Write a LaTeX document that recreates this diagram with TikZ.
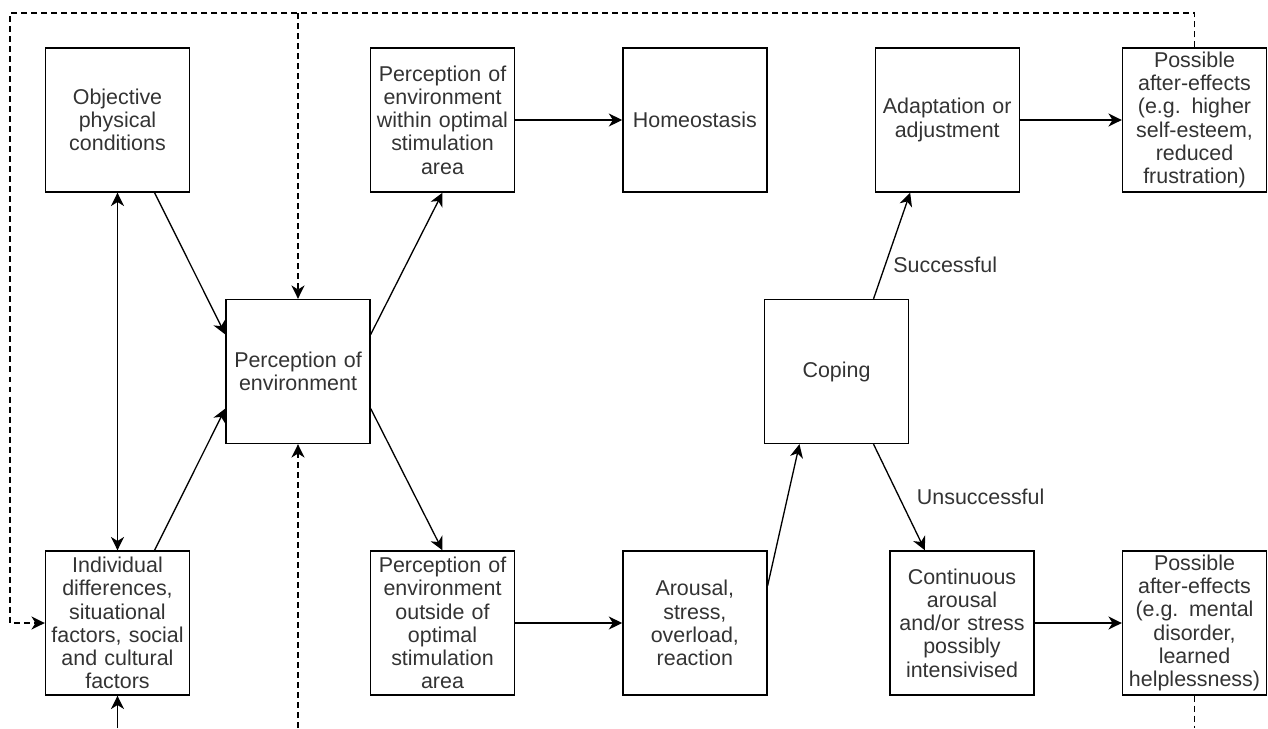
\documentclass[tikz,border=0pt]{standalone}
\usepackage{fontspec}
\setmainfont{Liberation Sans}
\usetikzlibrary{arrows.meta, positioning}

\tikzset{
    box/.style={rectangle, draw, line width=0.8pt, minimum width=2.88cm, minimum height=2.88cm,
        text width=2.8cm, align=center, inner sep=0pt, text=black!80,
        font=\fontsize{12.2}{13.2}\selectfont},
    link/.style={->, line width=0.75pt},
    feedback/.style={link, dash pattern=on 3.4pt off 2.3pt},
    edgetext/.style={inner sep=0pt, text=black!80, font=\fontsize{12.2}{13.2}\selectfont},
}

\begin{document}
\begin{tikzpicture}[x=0.02cm, y=-0.02cm, node distance=2.14cm,
    >={Stealth[length=7.6pt, width=7.4pt, inset=2.3pt]}]
    \useasboundingbox (0,0) rectangle (1268,728);

    \node [box] (objective) at (117.5,120) {Objective\\physical\\conditions};
    \node [box] (within) at (442.5,120) {Perception of\\environment\\within optimal\\stimulation\\area};
    \node [box, right=of within] (homeo) {Homeostasis};
    \node [box, right=of homeo] (adapt) {Adaptation or\\adjustment};
    \node [box] (afterup) at (1194.5,120) {Possible\\after-effects\\(e.g. higher\\self-esteem,\\reduced\\frustration)};

    \node [box] (perception) at (298,371.5) {Perception of\\environment};
    \node [box] (coping) at (836.5,371.5) {Coping};

    \node [box] (individual) at (117.5,623) {Individual\\differences,\\situational\\factors, social\\and cultural\\factors};
    \node [box] (outside) at (442.5,623) {Perception of\\environment\\outside of\\optimal\\stimulation\\area};
    \node [box, right=of outside] (arousal) {Arousal,\\stress,\\overload,\\reaction};
    \node [box] (continuous) at (962,623) {Continuous\\arousal\\and/or stress\\possibly\\intensivised};
    \node [box] (afterlow) at (1194.5,623) {Possible\\after-effects\\(e.g. mental\\disorder,\\learned\\helplessness)};

    \coordinate (topleft) at (10,13);
    \coordinate (bottom) at (0,728);

    \draw[link, <->] (objective.south) -- (individual.north);
    \draw[link] (objective.-63) -- (perception.153);
    \draw[link] (individual.63) -- (perception.207);
    \draw[link] (perception.27) -- (within.south);
    \draw[link] (perception.-27) -- (outside.north);
    \draw[link] (within) -- (homeo);
    \draw[link] (outside) -- (arousal);
    \draw[link] (arousal.27) -- (coping.-117);
    \draw[link] (coping.63) -- node[edgetext, pos=0.32, right=0.15cm] {Successful} (adapt.-117);
    \draw[link] (coping.-63) -- node[edgetext, pos=0.5, right=0.34cm] {Unsuccessful} (continuous.117);
    \draw[link] (adapt) -- (afterup);
    \draw[link] (continuous) -- (afterlow);

    % feedback loops
    \draw[feedback] (afterup.north) |- (topleft) |- (individual.west);
    \draw[feedback] (perception.north |- topleft) -- (perception.north);
    \draw[feedback] (perception.south |- bottom) -- (perception.south);
    \draw[link] (individual.south |- bottom) -- (individual.south);
    \draw[feedback, -] (afterlow.south) -- (afterlow.south |- bottom);
\end{tikzpicture}
\end{document}
